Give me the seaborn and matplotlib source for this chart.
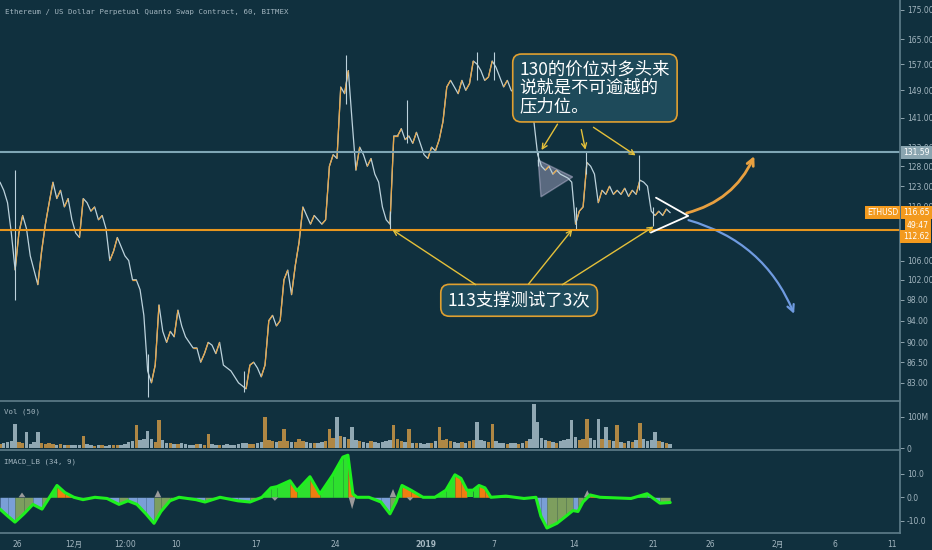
import numpy as np
import pandas as pd
import seaborn as sns
import matplotlib.pyplot as plt
import matplotlib.dates as mdates
import matplotlib.transforms as mtransforms
from matplotlib.collections import LineCollection
from matplotlib.patches import FancyArrowPatch, Polygon
from matplotlib.ticker import FixedLocator, NullLocator, FuncFormatter

# ETHUSD 8h closes, starting 2018-11-24 12:00
start = pd.Timestamp("2018-11-24 12:00")
close = [
    124, 122, 119, 112, 104, 112, 116, 113, 107, 104,
    101, 108, 114, 119, 124, 120, 122, 118, 120, 115,
    112, 111, 120, 119, 117, 118, 115, 116, 113, 106,
    108, 111, 109, 107, 106, 102, 102, 100, 95, 85,
    83, 86, 97, 92, 90, 92, 91, 96, 93, 91,
    90, 89, 89, 86.5, 88, 90, 89.5, 88, 90, 86,
    85.5, 85, 84, 83, 82.5, 82, 86, 86.5, 85.5, 84,
    86, 94, 95, 93, 94, 102, 104, 99, 105, 110,
    118, 116, 114, 116, 115, 114, 115, 128, 131, 130,
    150, 148, 155, 140, 127, 133, 131, 128, 130, 126,
    124, 118, 115, 114, 136, 136, 138, 135, 136, 134,
    137, 134, 131, 130, 133, 132, 135, 140, 150, 152,
    150, 148, 152, 149, 151, 158, 157, 155, 152, 153,
    158, 156, 153, 150, 152, 149, 148, 149, 147, 148,
    146, 140, 131, 128, 127, 128, 126, 127, 126, 125.5,
    125, 124, 114, 117, 118, 129, 128, 126, 119, 122,
    121, 123, 121, 122, 121, 122.5, 120.5, 122, 121, 124.5,
    124, 123, 117, 116, 117, 116, 117.5, 116.65,
]

# volume per step, millions
volume = [
    12, 15, 18, 22, 78, 20, 16, 50, 14, 18,
    50, 15, 12, 16, 14, 10, 12, 9, 10, 11,
    9, 11, 39, 12, 10, 8, 11, 9, 8, 10,
    11, 9, 11, 14, 18, 22, 72, 25, 30, 55,
    28, 20, 89, 25, 17, 15, 13, 12, 16, 13,
    11, 10, 12, 13, 11, 45, 12, 10, 9, 11,
    12, 10, 11, 13, 15, 17, 13, 12, 15, 19,
    100, 25, 21, 19, 22, 60, 24, 20, 19, 28,
    24, 19, 17, 15, 16, 18, 21, 60, 32, 100,
    40, 34, 28, 67, 25, 21, 19, 17, 21, 18,
    16, 19, 21, 25, 75, 28, 21, 19, 60, 17,
    15, 16, 14, 15, 17, 21, 67, 25, 28, 22,
    19, 17, 18, 16, 21, 25, 83, 27, 21, 19,
    78, 22, 17, 15, 14, 16, 15, 14, 17, 21,
    28, 139, 83, 32, 25, 21, 19, 17, 21, 25,
    28, 89, 35, 25, 28, 94, 32, 27, 94, 28,
    67, 25, 21, 72, 19, 17, 21, 19, 25, 80,
    28, 21, 25, 50, 21, 19, 17, 14,
]

# long wicks
wick_time = ["2018-11-25 20:00", "2018-12-07 12:00", "2018-12-16 00:00",
             "2018-12-25 00:00", "2018-12-28 20:00", "2018-12-30 08:00",
             "2019-01-05 12:00", "2019-01-07 00:00", "2019-01-10 21:00",
             "2019-01-14 05:00", "2019-01-15 02:00", "2019-01-19 18:00",
             "2019-01-21 00:00"]
wick_low = [98, 80.7, 81.5, 145, 113, 134, 152, 152, 128, 113, 126, 122, 113.5]
wick_high = [127, 88, 85, 160, 117, 146, 161, 161, 132, 118, 132, 131, 118]

# IMACD_LB line, days after start
macd_day = [0.0, 0.7, 1.32, 2.11, 2.9, 3.7, 4.23, 5.02, 5.72, 6.51, 7.31, 8.36,
            9.42, 10.48, 11.27, 12.06, 12.85, 13.56, 14.17, 14.96, 15.76, 17.25,
            18.05, 19.37, 20.95, 22.01, 23.06, 23.86, 24.38, 25.53, 26.14, 27.29,
            28.17, 29.31, 30.19, 30.63, 31.07, 31.43, 32.48, 33.54, 34.33, 34.86,
            35.39, 36.18, 37.24, 38.29, 39.26, 40.05, 40.58, 41.11, 41.64, 42.17,
            42.69, 43.22, 44.54, 46.13, 47.18, 47.62, 48.15, 49.03, 49.82, 50.44,
            50.88, 51.32, 51.94, 52.82, 55.55, 56.96, 58.1, 59.0]
macd_val = [-5, -8, -10.5, -7, -3, -5, -1, 5, 2, 0, -1, 0,
            -0.5, -3, -1.5, -3, -7, -11, -6, -1.5, 0, -1,
            -2, 0, -1.5, -2, 0, 4, 4.5, 7, 2.8, 8.7,
            1.4, 9.5, 17, 17.8, 1.4, 0, 0, -2, -7, -2,
            5, 3, 0, 0, 3, 9.5, 8, 3, 3, 5,
            4, 0, 0.5, -0.5, 0, -8, -13, -11, -8, -5.6,
            -6, -2, 1, 0, -0.5, 1.5, -2.5, -2.2]
gray_day = [1.94, 13.9, 24.2, 31.0, 34.6, 36.1, 51.7]
gray_val = [2, 3, -1.5, -5, 3.5, -1.5, 3]

resistance = 131.59
support = 112.62
last_price = 116.65

price_ticks = [83, 86.5, 90, 94, 98, 102, 106, 118, 123, 128, 133, 141, 149, 157, 165, 175]
date_ticks = ["2018-11-26", "2018-12-01", "2018-12-05 12:00", "2018-12-10", "2018-12-17",
              "2018-12-24", "2019-01-01", "2019-01-07", "2019-01-14", "2019-01-21",
              "2019-01-26", "2019-02-01", "2019-02-06", "2019-02-11"]
date_labels = ["26", "12月", "12:00", "10", "17", "24", "2019", "7", "14", "21",
               "26", "2月", "6", "11"]

note_top = "130的价位对多头来\n说就是不可逾越的\n压力位。"
note_bottom = "113支撑测试了3次"

BG = "#10303e"
EDGE = "#5b7a87"
TXT = "#a3b6c0"
UP = "#e6a547"
DOWN = "#bcd2dc"
ORANGE = "#f39a1e"

sns.set_theme(style="dark", rc={"axes.facecolor": BG, "figure.facecolor": BG})
plt.rcParams["font.family"] = ["DejaVu Sans", "Noto Sans CJK SC"]
CJK = ["Noto Sans CJK SC", "DejaVu Sans"]


def dn(s):
    return mdates.date2num(pd.Timestamp(s))


times = pd.date_range(start, periods=len(close), freq="8h")
tn = mdates.date2num(times)
x0, x1 = dn("2018-11-24 12:05"), dn("2019-02-11 17:30")

fig = plt.figure(figsize=(9.32, 5.5), dpi=100)
W = 900 / 932
ax = fig.add_axes([0, 150 / 550, W, 400 / 550])
axv = fig.add_axes([0, 101 / 550, W, 48 / 550])
axm = fig.add_axes([0, 17 / 550, W, 83 / 550])

for a in (ax, axv, axm):
    a.set_facecolor(BG)
    a.grid(False)
    for s in a.spines.values():
        s.set_visible(False)
    a.spines["right"].set_visible(True)
    a.spines["right"].set_color(EDGE)
    a.yaxis.tick_right()
    a.tick_params(axis="y", colors=TXT, labelsize=5.5, length=3, width=0.6, pad=2)
for a in (axv, axm):
    a.spines["top"].set_visible(True)
    a.spines["top"].set_color(EDGE)
axm.spines["bottom"].set_visible(True)
axm.spines["bottom"].set_color(EDGE)

# price pane
ax.set_yscale("log")
df = pd.DataFrame({"time": times, "close": close})
sns.lineplot(data=df, x="time", y="close", ax=ax, color=DOWN, lw=0.9, estimator=None)
segs = [[(tn[i], close[i]), (tn[i + 1], close[i + 1])] for i in range(len(close) - 1)
        if close[i + 1] >= close[i]]
ax.add_collection(LineCollection(segs, colors=UP, linewidths=0.9))
ax.vlines([dn(t) for t in wick_time], wick_low, wick_high, color=DOWN, lw=0.8)

ax.axhline(resistance, color="#7fa6b5", lw=1.5)
ax.axhline(support, color="#e8961e", lw=1.5)

ax.set_ylim(80.2, 178.5)
ax.yaxis.set_major_locator(FixedLocator(price_ticks))
ax.yaxis.set_minor_locator(NullLocator())
ax.yaxis.set_major_formatter(FuncFormatter(lambda v, _: f"{v:.2f}"))

bt = mtransforms.blended_transform_factory(ax.transAxes, ax.transData)
lab = dict(transform=bt, fontsize=5.5, color="white", va="center", clip_on=False, zorder=10)
ax.text(1.004, resistance, f"{resistance:.2f}", ha="left",
        bbox=dict(boxstyle="square,pad=0.3", fc="#8aa5b0", ec="none"), **lab)
ax.text(0.998, last_price, "ETHUSD", ha="right",
        bbox=dict(boxstyle="square,pad=0.3", fc=ORANGE, ec="none"), **lab)
ax.text(1.004, last_price, f"{last_price:.2f}", ha="left",
        bbox=dict(boxstyle="square,pad=0.3", fc=ORANGE, ec="none"), **lab)
ax.annotate("49:47", xy=(1.0, last_price), xycoords=bt, xytext=(5, -9.5),
            textcoords="offset points", fontsize=5.5, color="white", va="center", zorder=10,
            bbox=dict(boxstyle="square,pad=0.3", fc=ORANGE, ec="none"), annotation_clip=False)
ax.annotate(f"{support:.2f}", xy=(1.0, support), xycoords=bt, xytext=(2, -4.5),
            textcoords="offset points", fontsize=5.5, color="white", va="center", zorder=10,
            bbox=dict(boxstyle="square,pad=0.3", fc=ORANGE, ec="none"), annotation_clip=False)

# drawings
ax.add_patch(Polygon([(dn("2019-01-10 21:00"), 129.6), (dn("2019-01-13 22:00"), 125.3),
                      (dn("2019-01-11 03:00"), 120.4)], closed=True,
                     fc="#c9bfe3", ec="#d8d0ee", alpha=0.4, lw=1))
ax.plot([dn("2019-01-21 06:00"), dn("2019-01-24 02:00"), dn("2019-01-20 19:00")],
        [120.2, 115.9, 112.1], color="white", lw=1.3)

ax.add_patch(FancyArrowPatch((dn("2019-01-23 17:00"), 116.4), (dn("2019-01-30 00:00"), 131.3),
                             connectionstyle="arc3,rad=0.25", arrowstyle="->",
                             mutation_scale=12, lw=2, color="#e8a040"))
ax.add_patch(FancyArrowPatch((dn("2019-01-23 21:00"), 115.1), (dn("2019-02-02 12:00"), 94.8),
                             connectionstyle="arc3,rad=-0.25", arrowstyle="->",
                             mutation_scale=12, lw=1.6, color="#6f9be0"))

box = dict(boxstyle="round,pad=0.4,rounding_size=0.5", fc="#1e4a5a", ec="#e0a030", lw=1.2)
ax.text(dn("2019-01-09 06:00"), 158.0, note_top, family=CJK, fontsize=12.5, color="white",
        ha="left", va="top", linespacing=1.0, bbox=box)
ax.text(dn("2019-01-02 22:00"), 97.9, note_bottom, family=CJK, fontsize=12.5, color="white",
        ha="left", va="center", bbox=box)

arrows = [
    ("2019-01-12 17:00", 139.9, "2019-01-11 01:00", 131.6),
    ("2019-01-14 15:00", 138.5, "2019-01-15 02:00", 131.6),
    ("2019-01-15 13:00", 138.8, "2019-01-19 16:00", 130.4),
    ("2019-01-05 14:00", 100.7, "2018-12-28 20:00", 113.1),
    ("2019-01-09 21:00", 100.7, "2019-01-14 01:00", 113.3),
    ("2019-01-12 19:00", 100.7, "2019-01-21 06:00", 113.8),
]
for t0, p0, t1, p1 in arrows:
    ax.annotate("", xy=(dn(t1), p1), xytext=(dn(t0), p0),
                arrowprops=dict(arrowstyle="->", color="#e4c03a", lw=1, mutation_scale=9))

fig.text(5 / 932, 1 - 12 / 550, "Ethereum / US Dollar Perpetual Quanto Swap Contract, 60, BITMEX",
         family="DejaVu Sans Mono", fontsize=5.3, color=TXT, va="center")

# volume pane
vcol = [UP if i == 0 or close[i] >= close[i - 1] else DOWN for i in range(len(close))]
axv.bar(tn, volume, width=0.3, color=vcol, alpha=0.75, lw=0)
axv.set_ylim(-3, 150)
axv.set_yticks([0, 100])
axv.set_yticklabels(["0", "100M"])
axv.text(0.004, 0.77, "Vol (50)", transform=axv.transAxes, family="DejaVu Sans Mono",
         fontsize=5.3, color=TXT, va="center")

# IMACD pane
mt = mdates.date2num(start + pd.to_timedelta(macd_day, unit="D"))
for i in range(len(mt) - 1):
    v0, v1 = macd_val[i], macd_val[i + 1]
    if v0 + v1 >= 0:
        col = "#2ee02e" if v1 >= v0 else "#f07d10"
    else:
        col = "#7a9fd6" if v1 < v0 else "#7d9e5e"
    axm.fill_between(mt[i:i + 2], macd_val[i:i + 2], 0, color=col, lw=0)
gt = mdates.date2num(start + pd.to_timedelta(gray_day, unit="D"))
for t, v in zip(gt, gray_val):
    axm.fill([t - 0.3, t, t + 0.3], [0, v, 0], color="#9a9a9a", lw=0)
mdf = pd.DataFrame({"t": start + pd.to_timedelta(macd_day, unit="D"), "v": macd_val})
sns.lineplot(data=mdf, x="t", y="v", ax=axm, color="#1ef01e", lw=2.2, estimator=None)
axm.set_ylim(-15.1, 20)
axm.set_yticks([-10, 0, 10])
axm.set_yticklabels(["-10.0", "0.0", "10.0"])
axm.text(0.005, 0.855, "IMACD_LB (34, 9)", transform=axm.transAxes, family="DejaVu Sans Mono",
         fontsize=5.3, color=TXT, va="center")

for a in (ax, axv, axm):
    a.set_xlim(x0, x1)
    a.set_xlabel("")
    a.set_ylabel("")
ax.set_xticks([])
axv.set_xticks([])
axm.set_xticks([dn(d) for d in date_ticks])
axm.set_xticklabels(date_labels)
axm.tick_params(axis="x", colors=TXT, labelsize=5.5, length=3, width=0.6, pad=2)
for t in axm.get_xticklabels():
    if t.get_text() == "2019":
        t.set_fontweight("bold")

fig.savefig("out.png", dpi=100, facecolor=BG)
